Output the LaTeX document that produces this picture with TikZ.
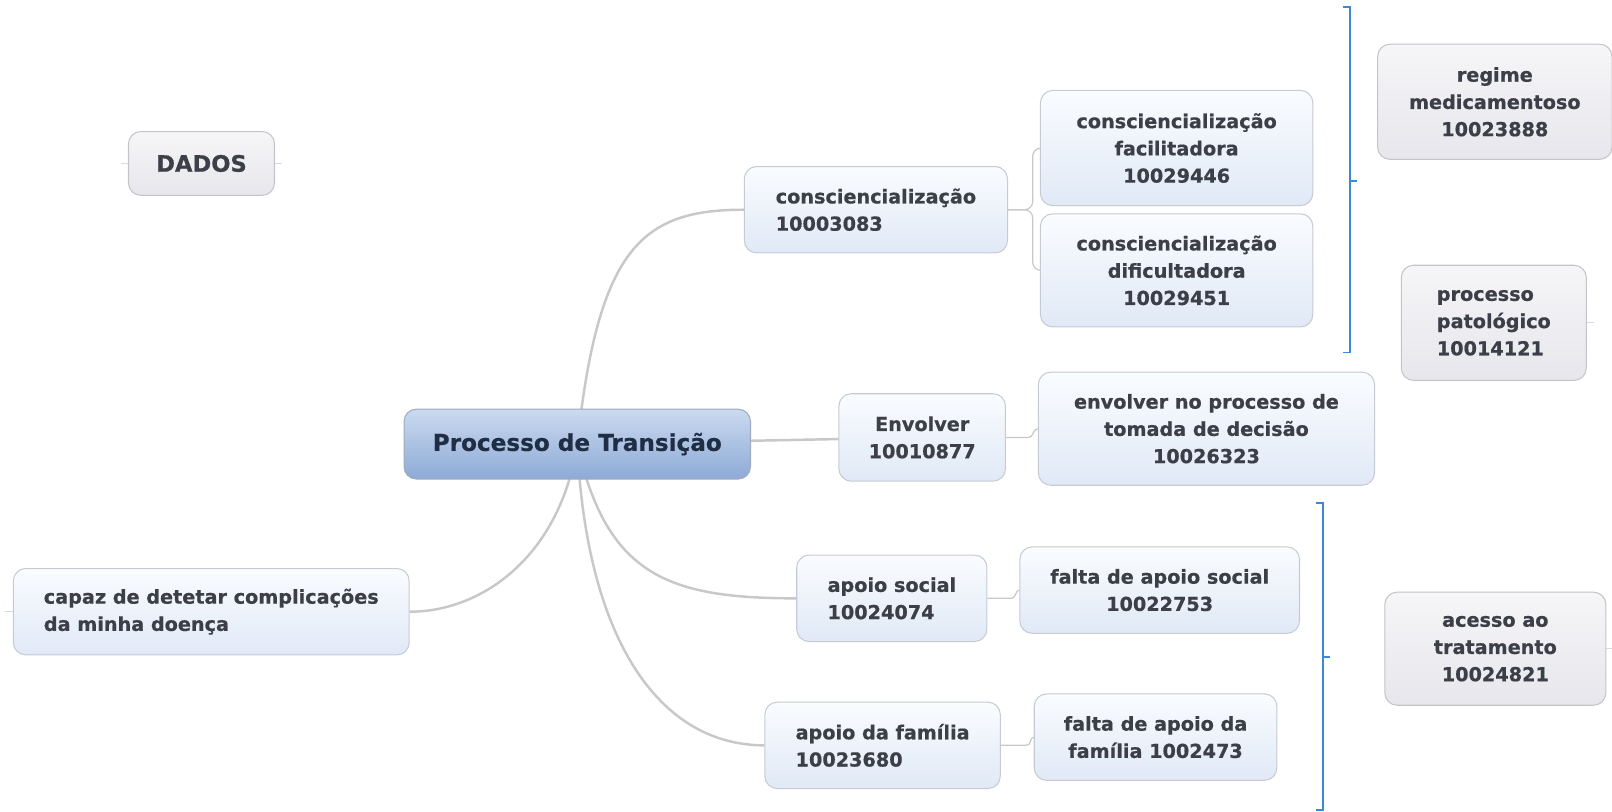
\documentclass[tikz,border=0pt]{standalone}
\usepackage{fontspec}
\setmainfont{DejaVu Sans}[BoldFeatures={FakeBold=0.6}]
\usetikzlibrary{backgrounds}
\definecolor{txt}{HTML}{3C3E48}
\definecolor{ctxt}{HTML}{1F2D45}
\definecolor{boxline}{HTML}{C6CAD2}
\definecolor{grayline}{HTML}{C4C4C8}
\definecolor{bluetop}{HTML}{FAFCFF}
\definecolor{bluebot}{HTML}{E0E9F6}
\definecolor{graytop}{HTML}{F6F6F8}
\definecolor{graybot}{HTML}{E6E6EC}
\definecolor{ctop}{HTML}{CBDAF0}
\definecolor{cbot}{HTML}{8DAAD5}
\definecolor{cline}{HTML}{9FABBE}
\definecolor{conn}{HTML}{C8C8C8}
\definecolor{brack}{HTML}{3D89D8}
\begin{document}
\begin{tikzpicture}[x=1pt,y=-1pt,
  box/.style={draw=boxline, rounded corners=12pt, line width=1pt, inner sep=0pt,
    font=\bfseries\fontsize{18.7}{26.5}\selectfont, text=txt, align=center},
  bluebox/.style={box, top color=bluetop, bottom color=bluebot},
  graybox/.style={box, draw=grayline, top color=graytop, bottom color=graybot},
  leftbox/.style={align=left},
  mainconn/.style={draw=conn, line width=2.4pt},
  subconn/.style={draw=conn, line width=1.2pt},
  stub/.style={draw=conn!70, line width=1pt},
  bracket/.style={draw=brack, line width=1.6pt}
]
\useasboundingbox (0,0) rectangle (1568,789);

% nodes
\node[graybox, minimum width=142, minimum height=62, font=\bfseries\fontsize{22}{26}\selectfont] (dados) at (196,159) {DADOS};
\node[box, draw=cline, top color=ctop, bottom color=cbot, text=ctxt, minimum width=337, minimum height=68,
  font=\bfseries\fontsize{22.5}{27}\selectfont] (central) at (561.5,432) {Processo de Transição};

\node[bluebox, leftbox, minimum width=256, minimum height=84] (consc) at (852,204) {consciencialização\\10003083};
\node[bluebox, minimum width=265, minimum height=112] (fac) at (1144.5,144) {consciencialização\\facilitadora\\10029446};
\node[bluebox, minimum width=265, minimum height=110] (dif) at (1144.5,263) {consciencialização\\dificultadora\\10029451};
\node[bluebox, minimum width=162, minimum height=85] (env) at (897,425.5) {Envolver\\10010877};
\node[bluebox, minimum width=327, minimum height=110] (tom) at (1173.5,417) {envolver no processo de\\tomada de decisão\\10026323};
\node[bluebox, leftbox, minimum width=185, minimum height=84] (aps) at (867.5,582) {apoio social\\10024074};
\node[bluebox, minimum width=272, minimum height=84] (fas) at (1128,574) {falta de apoio social\\10022753};
\node[bluebox, leftbox, minimum width=229, minimum height=84] (apf) at (858.5,725) {apoio da família\\10023680};
\node[bluebox, minimum width=236, minimum height=84] (faf) at (1124,717) {falta de apoio da\\família 1002473};
\node[bluebox, leftbox, minimum width=385, minimum height=84] (capaz) at (205.5,595) {capaz de detetar complicações\\da minha doença};

\node[graybox, minimum width=228, minimum height=112] (reg) at (1454,99) {regime\\medicamentoso\\10023888};
\node[graybox, leftbox, minimum width=180, minimum height=112] (pat) at (1453,314) {processo\\patológico\\10014121};
\node[graybox, minimum width=215, minimum height=110] (ace) at (1454.5,631) {acesso ao\\tratamento\\10024821};

% connectors
\begin{scope}[on background layer]
  \draw[mainconn] (central.center) .. controls (582,240) and (625,204) .. (consc.west);
  \draw[mainconn] (central.center) -- (env.center);
  \draw[mainconn] (central.center) .. controls (590,560) and (650,582) .. (aps.west);
  \draw[mainconn] (central.center) .. controls (570,620) and (640,725) .. (apf.west);
  \draw[mainconn] (central.center) .. controls (545,540) and (470,595) .. (capaz.east);

  \draw[subconn, rounded corners=8pt] (consc.east) -- ++(24,0) |- (fac.west);
  \draw[subconn, rounded corners=8pt] (consc.east) -- ++(24,0) |- (dif.west);
  \draw[subconn] (env.east) -- ++(22,0) .. controls +(5,0) and +(-5,0) .. (tom.west);
  \draw[subconn] (aps.east) -- ++(23,0) .. controls +(5,0) and +(-4,0) .. (fas.west);
  \draw[subconn] (apf.east) -- ++(25,0) .. controls +(5,0) and +(-4,0) .. (faf.west);
\end{scope}

% small stubs
\draw[stub] (dados.west) -- ++(-7,0);
\draw[stub] (dados.east) -- ++(7,0);
\draw[stub] (capaz.west) -- ++(-8,0);
\draw[stub] (pat.east) -- ++(7,0);
\draw[stub] (ace.east) -- ++(6,0);

% blue brackets
\draw[bracket] (1306,7) -- (1313,7) -- (1313,343) -- (1306,343);
\draw[bracket] (1313,176) -- (1320,176);
\draw[bracket] (1280,489) -- (1287,489) -- (1287,788) -- (1280,788);
\draw[bracket] (1287,639) -- (1294,639);
\end{tikzpicture}
\end{document}
